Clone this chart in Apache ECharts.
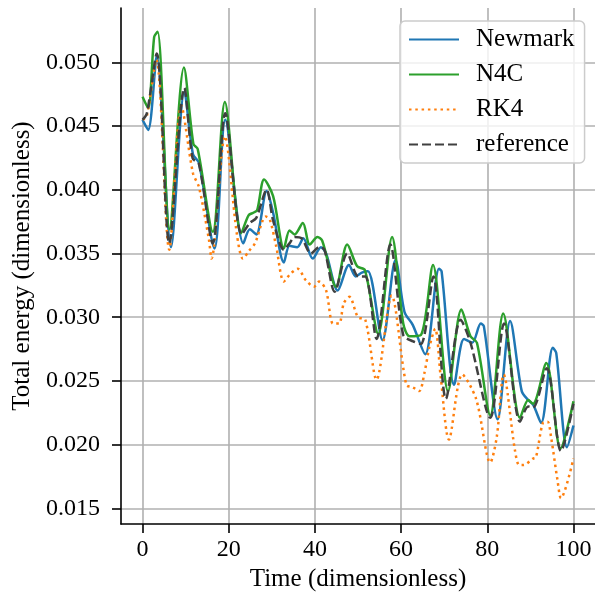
<!DOCTYPE html>
<html><head><meta charset="utf-8">
<script src="https://cdn.jsdelivr.net/npm/echarts@6/dist/echarts.min.js"></script>
<style>html,body{margin:0;padding:0;background:#fff}#c{width:595px;height:602px}</style>
</head><body><div id="c"></div>
<script>
// ---- data ----
const xTicks = [0, 20, 40, 60, 80, 100];
const yTicks = [0.015, 0.020, 0.025, 0.030, 0.035, 0.040, 0.045, 0.050];

const newmarkT = [0, 1.3, 3.3, 6.6, 9.7, 11.7, 13.1, 16.7, 19.2, 23.4, 24.9, 26.4, 28.8, 30.3, 32.8, 34.1, 35.9, 37.3, 39.5, 41.4, 42.6, 45.3, 47.9, 49.5, 50.9, 52.3, 55.7, 58.7, 60.8, 62.7, 65.6, 68.8, 69.4, 72.3, 74.6, 76.5, 78.5, 79.2, 82.4, 85.3, 88.0, 89.5, 90.7, 92.5, 95.2, 96.0, 98.5, 100];
const newmarkE = [0.0455, 0.0447, 0.0505, 0.0355, 0.0477, 0.0428, 0.0421, 0.0354, 0.0455, 0.0358, 0.0369, 0.0365, 0.0399, 0.0382, 0.0343, 0.0356, 0.0355, 0.0362, 0.0346, 0.0355, 0.0350, 0.0321, 0.0341, 0.0332, 0.0335, 0.0336, 0.0282, 0.0345, 0.0304, 0.0294, 0.0271, 0.0338, 0.0336, 0.0247, 0.0283, 0.0280, 0.0295, 0.0293, 0.0220, 0.0297, 0.0242, 0.0235, 0.0231, 0.0217, 0.0276, 0.0272, 0.0198, 0.0215];

const n4cT = [0, 1.3, 2.7, 3.5, 6.25, 9.6, 11.8, 12.8, 16.3, 19.1, 22.9, 24.6, 25.7, 26.6, 28.2, 30.3, 32.8, 34.1, 35.3, 37.2, 38.8, 40.6, 41.7, 44.9, 47.5, 49.8, 51.6, 54.7, 57.9, 60.5, 62.0, 64.6, 67.4, 70.9, 74.0, 76.1, 77.6, 80.7, 83.7, 87.6, 89.5, 90.6, 93.7, 97.0, 100];
const n4cE = [0.0473, 0.0464, 0.0520, 0.0524, 0.0369, 0.0496, 0.0436, 0.0432, 0.0367, 0.0469, 0.0366, 0.0380, 0.0382, 0.0384, 0.0408, 0.0395, 0.0354, 0.0368, 0.0365, 0.0374, 0.0357, 0.0363, 0.0360, 0.0324, 0.0357, 0.0340, 0.0337, 0.0287, 0.0363, 0.0295, 0.0285, 0.0286, 0.0341, 0.0242, 0.0306, 0.0285, 0.0280, 0.0223, 0.0303, 0.0221, 0.0235, 0.0232, 0.0264, 0.0197, 0.0234];

const rk4T = [0, 1, 3.2, 6.2, 9.0, 11.7, 13.1, 15.4, 16.0, 19.1, 21.9, 23.3, 24.7, 26.1, 28.6, 29.5, 31.0, 32.8, 34.3, 36.0, 37.9, 39.8, 41.0, 42.6, 44.2, 45.6, 46.7, 48.0, 50.0, 51.7, 54.3, 57.8, 61.2, 62.7, 64.2, 65.4, 66.6, 67.9, 69.2, 71.1, 74.2, 77.4, 80.7, 82.2, 83.8, 86.4, 87.4, 88.4, 90.6, 91.3, 92.9, 94.0, 94.8, 96.3, 97.1, 100];
const rk4E = [0.0455, 0.0458, 0.0502, 0.0353, 0.0466, 0.0413, 0.0402, 0.0361, 0.0346, 0.0442, 0.0365, 0.0346, 0.0352, 0.0358, 0.0379, 0.0377, 0.0356, 0.0328, 0.0334, 0.0338, 0.0329, 0.0324, 0.0328, 0.0321, 0.0295, 0.0295, 0.0311, 0.0316, 0.0300, 0.0298, 0.0251, 0.0317, 0.0247, 0.0245, 0.0242, 0.0256, 0.0277, 0.0291, 0.0253, 0.0204, 0.0255, 0.0236, 0.0186, 0.0206, 0.0255, 0.0196, 0.0184, 0.0184, 0.0189, 0.0190, 0.0217, 0.0218, 0.0206, 0.0172, 0.0158, 0.0189];

const refT = [0, 1, 3.3, 6.2, 9.7, 11.6, 13.1, 16.3, 19.2, 23.0, 24.9, 26.4, 28.8, 30.3, 32.8, 34.1, 35.3, 36.9, 39.1, 41.0, 42.2, 44.6, 47.5, 50.1, 51.7, 54.3, 57.5, 60.5, 62.8, 64.6, 67.5, 70.4, 73.8, 76.1, 80.7, 83.9, 87.6, 89.5, 90.6, 93.8, 97.1, 100];
const refE = [0.0455, 0.0460, 0.0507, 0.0358, 0.0480, 0.0425, 0.0420, 0.0358, 0.0460, 0.0365, 0.0374, 0.0378, 0.0400, 0.0376, 0.0353, 0.0358, 0.0363, 0.0362, 0.0350, 0.0355, 0.0353, 0.0320, 0.0350, 0.0332, 0.0332, 0.0283, 0.0357, 0.0286, 0.0281, 0.0279, 0.0332, 0.0236, 0.0298, 0.0280, 0.0221, 0.0295, 0.0218, 0.0230, 0.0229, 0.0260, 0.0195, 0.0232];

// ---- chart ----
const FONT = 'Liberation Serif';
const zip = (t, e) => t.map((v, i) => [v, e[i]]);

function mkSeries(name, t, e, color, type) {
  return {
    type: 'line', name: name, data: zip(t, e),
    symbol: 'none', showSymbol: false, smooth: 0.3,
    lineStyle: { color: color, width: 2.5, type: type, cap: 'butt' },
    itemStyle: { color: color }
  };
}

const gridLine = { show: true, lineStyle: { color: '#b0b0b0', width: 1.6 } };

const chart = echarts.init(document.getElementById('c'), null, { renderer: 'canvas' });
chart.setOption({
  animation: false,
  backgroundColor: '#ffffff',
  grid: { left: 121, right: -7, top: 8, bottom: 78, containLabel: false },
  xAxis: {
    type: 'value', min: -5, max: 105, splitNumber: 5,
    name: 'Time (dimensionless)', nameLocation: 'middle', nameGap: 42,
    nameTextStyle: { fontFamily: FONT, fontSize: 25, color: '#000' },
    axisLine: { show: true, onZero: false, lineStyle: { color: '#000', width: 1.6 } },
    axisTick: { show: true, length: 9, customValues: xTicks, lineStyle: { color: '#000', width: 1.6 } },
    axisLabel: { customValues: xTicks, margin: 14,
      fontFamily: FONT, fontSize: 24, color: '#000' },
    splitLine: gridLine
  },
  yAxis: {
    type: 'value', min: 0.01377, max: 0.05427, splitNumber: 8,
    name: 'Total energy (dimensionless)', nameLocation: 'middle', nameGap: 86,
    nameTextStyle: { fontFamily: FONT, fontSize: 25, color: '#000' },
    axisLine: { show: true, onZero: false, lineStyle: { color: '#000', width: 1.6 } },
    axisTick: { show: true, length: 9, customValues: yTicks, lineStyle: { color: '#000', width: 1.6 } },
    axisLabel: { customValues: yTicks, margin: 21,
      fontFamily: FONT, fontSize: 24, color: '#000', formatter: v => v.toFixed(3) },
    splitLine: gridLine
  },
  legend: {
    orient: 'vertical', left: 400, top: 21,
    itemWidth: 50, itemHeight: 14, itemGap: 10,
    padding: [6, 10, 6, 8],
    backgroundColor: 'rgba(255,255,255,0.8)', borderColor: '#cccccc', borderWidth: 1.5, borderRadius: 5,
    itemStyle: { opacity: 0, color: 'rgba(0,0,0,0)', borderWidth: 0 },
    textStyle: { fontFamily: FONT, fontSize: 25, color: '#000', lineHeight: 24, padding: [0, 0, 0, 12] },
    data: ['Newmark', 'N4C', 'RK4', 'reference']
  },
  series: [
    mkSeries('Newmark', newmarkT, newmarkE, '#1f77b4', 'solid'),
    mkSeries('N4C', n4cT, n4cE, '#2ca02c', 'solid'),
    mkSeries('RK4', rk4T, rk4E, '#ff7f0e', [2.5, 3.8]),
    mkSeries('reference', refT, refE, '#404040', [9, 4])
  ]
});
</script>
</body></html>
